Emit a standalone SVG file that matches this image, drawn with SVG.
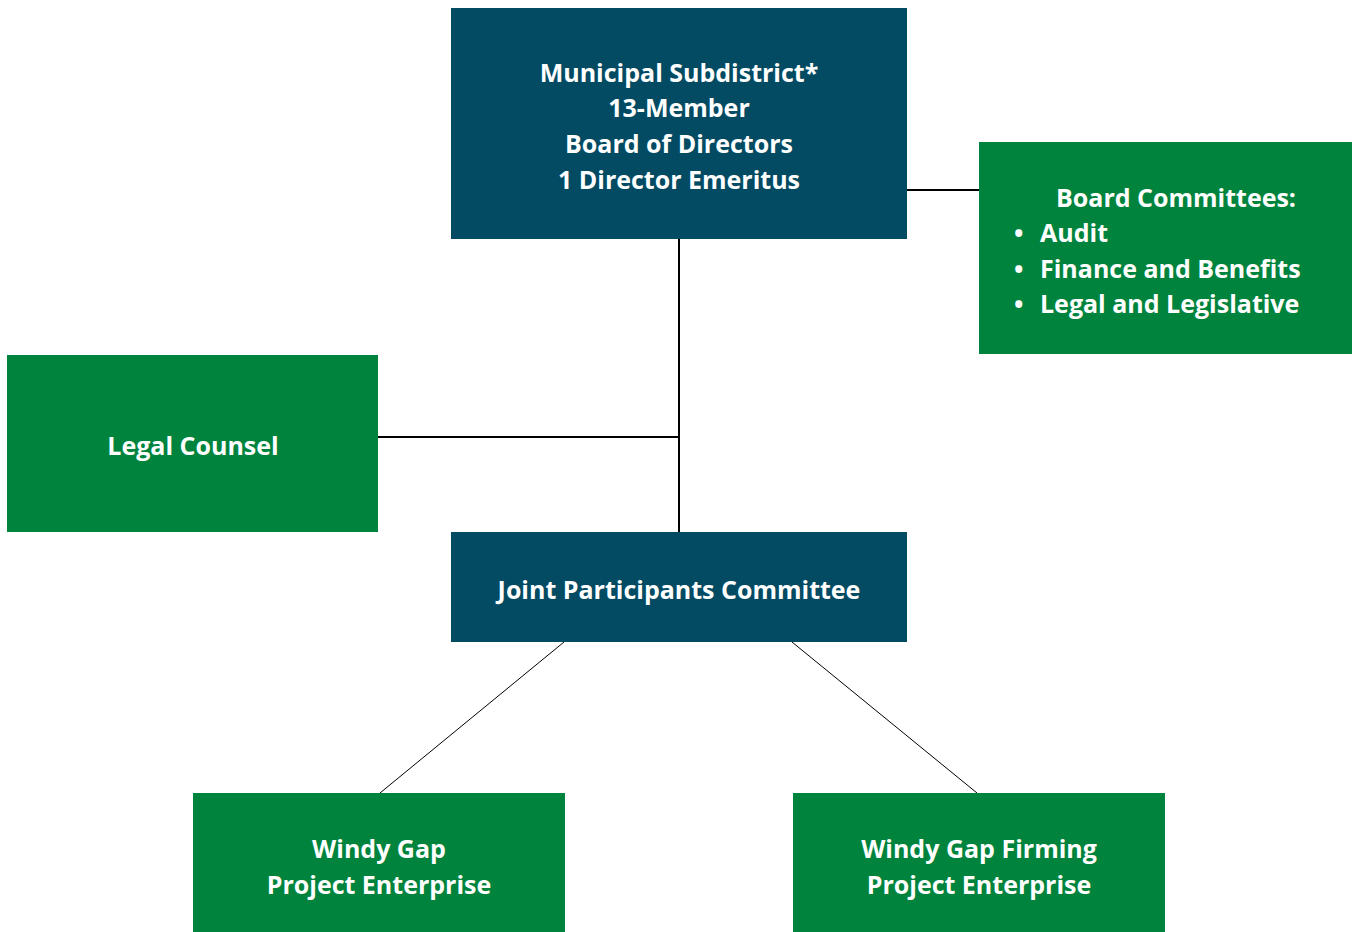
<svg xmlns="http://www.w3.org/2000/svg" width="1354" height="932" viewBox="0 0 1354 932">
<style>
.dark{fill:#024B63}
.green{fill:#00843D}
text{font-family:"Open Sans","Noto Sans","Liberation Sans",sans-serif;font-weight:bold;font-size:25px;fill:#ffffff}
.c{text-anchor:middle}
.conn line{stroke:#000000}
</style>
<rect width="1354" height="932" fill="#ffffff"/>
<g class="conn">
<line x1="679" y1="239" x2="679" y2="532" stroke-width="2"/>
<line x1="378" y1="437" x2="679" y2="437" stroke-width="2"/>
<line x1="907" y1="190" x2="979" y2="190" stroke-width="2"/>
<line x1="564" y1="642" x2="380" y2="793" stroke-width="1"/>
<line x1="792" y1="642" x2="977" y2="793" stroke-width="1"/>
</g>
<g id="board">
<rect class="dark" x="451" y="8" width="456" height="231"/>
<text class="c" x="679" y="82">Municipal Subdistrict*</text>
<text class="c" x="679" y="117">13-Member</text>
<text class="c" x="679" y="153">Board of Directors</text>
<text class="c" x="679" y="189">1 Director Emeritus</text>
</g>
<g id="committees">
<rect class="green" x="979" y="142" width="373" height="212"/>
<text class="c" x="1176" y="207">Board Committees:</text>
<text x="1014" y="242">•</text><text x="1040" y="242">Audit</text>
<text x="1014" y="278">•</text><text x="1040" y="278">Finance and Benefits</text>
<text x="1014" y="313">•</text><text x="1040" y="313">Legal and Legislative</text>
</g>
<g id="legal">
<rect class="green" x="7" y="355" width="371" height="177"/>
<text class="c" x="193" y="455">Legal Counsel</text>
</g>
<g id="jpc">
<rect class="dark" x="451" y="532" width="456" height="110"/>
<text class="c" x="679" y="599">Joint Participants Committee</text>
</g>
<g id="wg">
<rect class="green" x="193" y="793" width="372" height="139"/>
<text class="c" x="379" y="858">Windy Gap</text>
<text class="c" x="379" y="894">Project Enterprise</text>
</g>
<g id="wgf">
<rect class="green" x="793" y="793" width="372" height="139"/>
<text class="c" x="979" y="858">Windy Gap Firming</text>
<text class="c" x="979" y="894">Project Enterprise</text>
</g>
</svg>
